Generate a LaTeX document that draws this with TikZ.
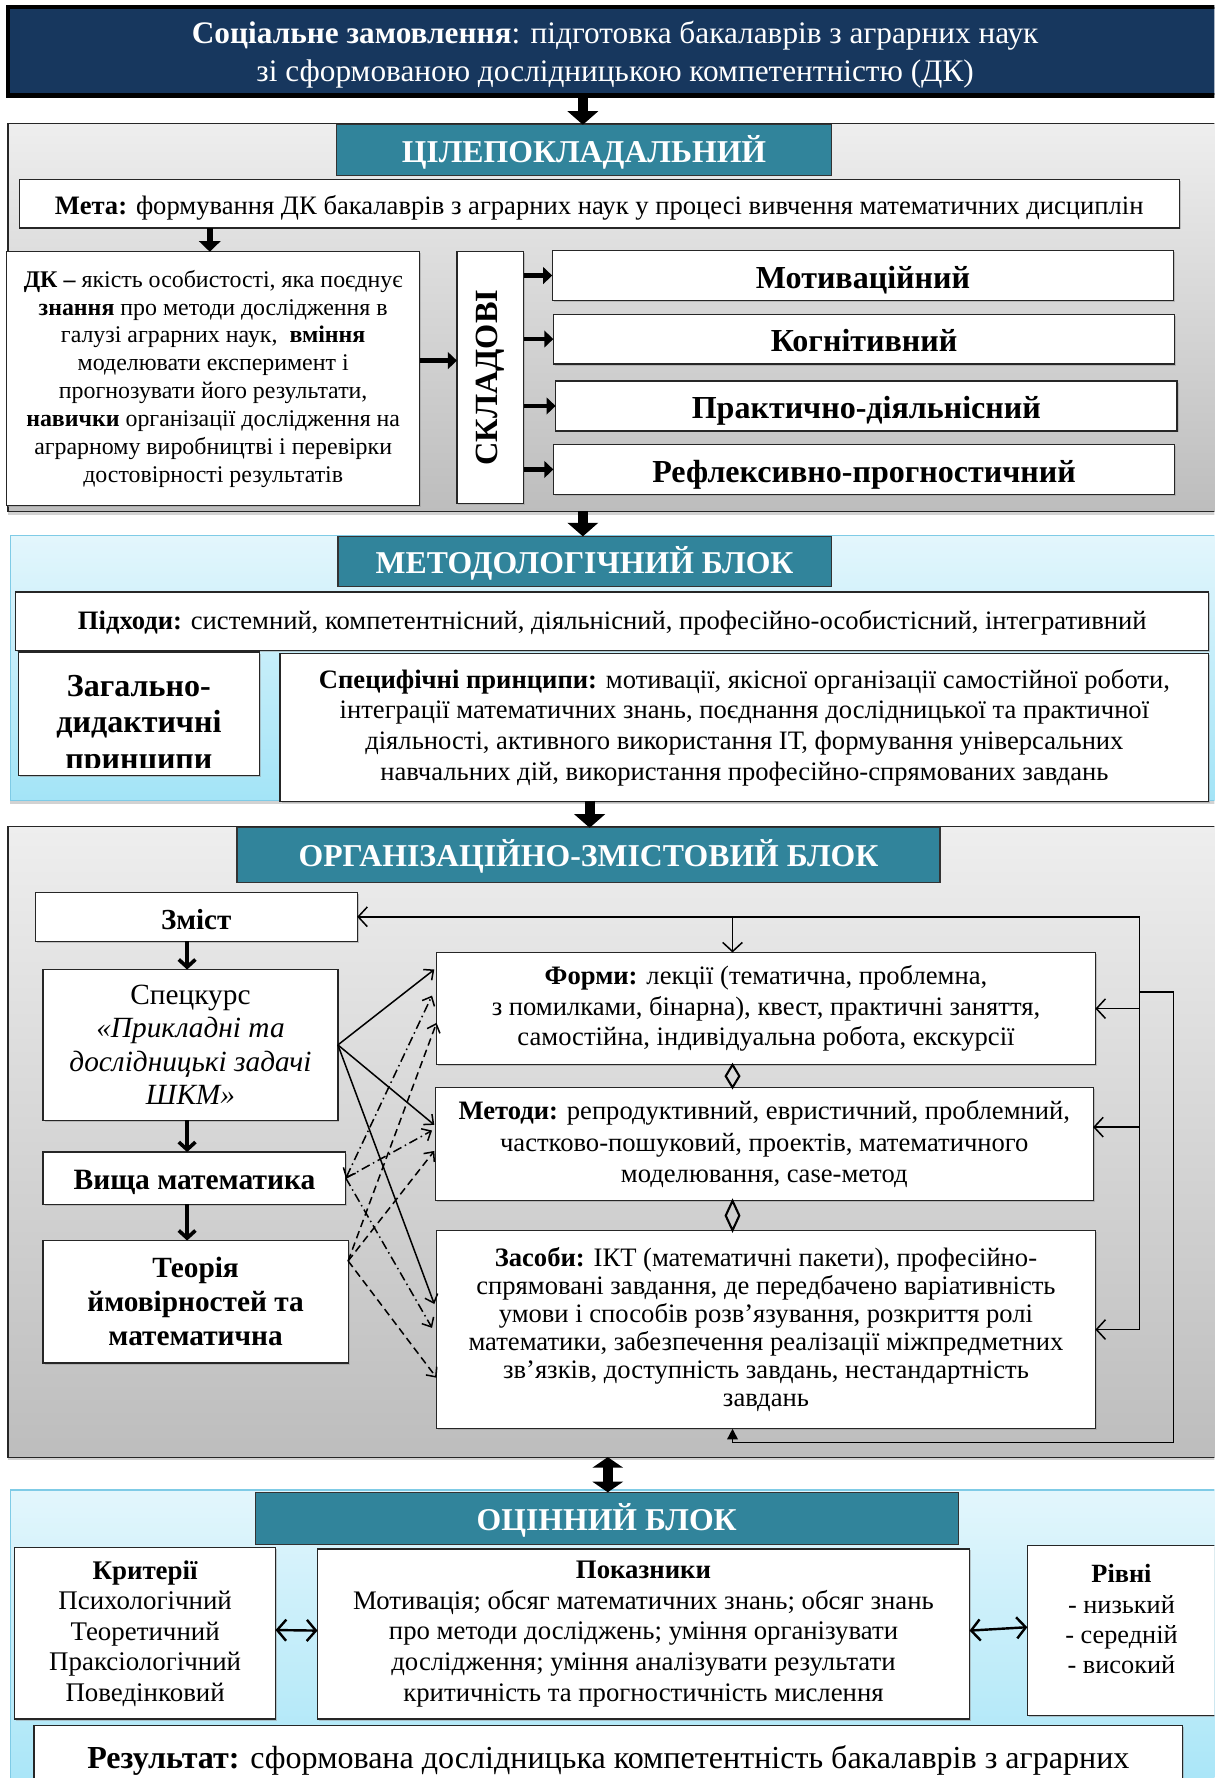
\documentclass[tikz,border=0pt]{standalone}
\usepackage{fontspec}
\setmainfont{Liberation Serif}
\usetikzlibrary{arrows.meta,shadows,calc}
\definecolor{navy}{HTML}{17375E}
\definecolor{tealhdr}{HTML}{31849B}
\definecolor{gtop}{HTML}{EEEEEE}
\definecolor{gbot}{HTML}{BDBDBD}
\definecolor{ctop}{HTML}{E3F6FC}
\definecolor{cbot}{HTML}{A3E4F7}
\definecolor{cedge}{HTML}{7FCBE6}
\newcommand\fsz[2]{\fontsize{#1}{#2}\selectfont}
\begin{document}
\begin{tikzpicture}[x=0.75pt,y=-0.75pt,
  rect/.style n args={4}{minimum width={(#3-#1)*0.75pt}, minimum height={(#4-#2)*0.75pt},
    at={({(#1+#3)/2},{(#2+#4)/2})}, inner sep=0pt, outer sep=0pt, rectangle},
  box/.style={draw=black!85, line width=0.8pt, fill=white, align=center,
    drop shadow={shadow xshift=1pt,shadow yshift=-1pt,fill=black!40}},
  onel/.style={text height=#1pt, text depth=2pt},
  blockgray/.style={draw=black!85, line width=0.8pt, top color=gtop, bottom color=gbot,
    drop shadow={shadow xshift=0pt,shadow yshift=-2.2pt,fill=black!35}},
  blockcyan/.style={draw=cedge, line width=0.8pt, top color=ctop, bottom color=cbot,
    drop shadow={shadow xshift=0pt,shadow yshift=-2.2pt,fill=black!35}},
  hdr/.style={draw=black!80, line width=0.8pt, fill=tealhdr, text=white, onel=17.6,
    font=\bfseries\fsz{21}{24}},
  bigarrow/.style={line width=6.5pt, -{Triangle[length=9pt,width=20pt]}},
  bigdbl/.style={line width=6.5pt, {Triangle[length=7pt,width=20pt]}-{Triangle[length=7pt,width=20pt]}},
  midarrow/.style={line width=4pt, -{Triangle[length=7pt,width=14pt]}},
  sarrow/.style={line width=2.8pt, -{Triangle[length=6pt,width=11pt]}},
  chev/.style={line width=2.4pt, -{Straight Barb[length=5pt,width=11pt]}},
  fb/.style={line width=1pt},
  fbtip/.style={-{Straight Barb[length=6pt,width=13pt]}},
  cross/.style={line width=1pt, -{Straight Barb[length=5pt,width=9pt]}},
  dd/.style={dash pattern=on 5pt off 3pt},
  ddot/.style={dash pattern=on 6pt off 2.5pt on 1pt off 2.5pt},
  evarrow/.style={line width=1.6pt, {Straight Barb[length=6pt,width=14pt]}-{Straight Barb[length=6pt,width=14pt]}},
]
\useasboundingbox (0,0) rectangle (1071,1568);
\clip (0,0) rectangle (1071,1568);

% helper x positions
\coordinate (x514) at (514,0);
\coordinate (x520) at (520,0);
\coordinate (x536) at (536,0);
\coordinate (x185) at (185,0);
\coordinate (x165) at (165,0);
\coordinate (fbx) at (646,0);
\coordinate (rin) at (1005,0);
\coordinate (rout) at (1035,0);

% ---------- top ----------
\node[rect={7}{6}{1078}{84}, fill=navy, draw=black, line width=3pt] (soc) {};
\node[text=white, align=center, font=\fsz{20.7}{24.8}] (soctxt) at ($(soc.center)+(0,3)$)
  {\textbf{Соціальне замовлення}: підготовка бакалаврів з аграрних наук\\зі сформованою дослідницькою компетентністю (ДК)};

% ---------- block 1 ----------
\node[blockgray, rect={7}{109}{1078}{451}] (blk1) {};
\node[hdr, rect={297}{110}{733}{155}] (t1) {ЦІЛЕПОКЛАДАЛЬНИЙ};
\node[box, onel=16, rect={17}{158}{1040}{201}, font=\fsz{17.6}{20}] (meta)
  {\textbf{Мета:} формування ДК бакалаврів з аграрних наук у процесі вивчення математичних дисциплін};
\node[box, rect={6}{222}{370}{446}, font=\fsz{15.8}{18.4}] (dk)
  {\textbf{ДК –} якість особистості, яка поєднує\\
   \textbf{знання} про методи дослідження в\\
   галузі аграрних наук,\ \ \textbf{вміння}\\
   моделювати експеримент і\\
   прогнозувати його результати,\\
   \textbf{навички} організації дослідження на\\
   аграрному виробництві і перевірки\\
   достовірності результатів};
\node[box, rect={403}{222}{462}{444}] (skl) {};
\node[rotate=90, font=\bfseries\fsz{21.4}{24}] (skltxt) at (skl.center) {СКЛАДОВІ};
\node[box, onel=19, rect={487}{221}{1035}{265}, font=\bfseries\fsz{21.2}{24}] (mot) {Мотиваційний};
\node[box, onel=19, rect={488}{277}{1036}{321}, font=\bfseries\fsz{21.2}{24}] (kog) {Когнітивний};
\node[box, onel=19, rect={490}{336}{1038}{380}, font=\bfseries\fsz{21.2}{24}] (prak) {Практично-діяльнісний};
\node[box, onel=19, rect={488}{392}{1036}{436}, font=\bfseries\fsz{21.2}{24}] (refl) {Рефлексивно-прогностичний};

% ---------- block 2 ----------
\node[blockcyan, rect={9}{472}{1078}{706}] (blk2) {};
\node[hdr, rect={298}{473}{733}{517}] (t2) {МЕТОДОЛОГІЧНИЙ БЛОК};
\node[box, onel=13, rect={14}{522}{1066}{574}, font=\fsz{17.6}{20}] (pidh)
  {\textbf{Підходи:} системний, компетентнісний, діяльнісний, професійно-особистісний, інтегративний};
\node[box, rect={16}{575}{229}{684}] (zag) {};
\begin{scope}
  \clip (16,575) rectangle (229,677);
  \node[font=\bfseries\fsz{21.2}{24.4}, align=center] (zagtxt) at (122.5,640) {Загально-\\дидактичні\\принципи};
\end{scope}
\node[box, rect={247}{576}{1066}{707}, font=\fsz{17.6}{20.3}] (spec2)
  {\textbf{Специфічні принципи:} мотивації, якісної організації самостійної роботи,\\
   інтеграції математичних знань, поєднання дослідницької та практичної\\
   діяльності, активного використання ІТ, формування універсальних\\
   навчальних дій, використання професійно-спрямованих завдань};

% ---------- block 3 ----------
\node[blockgray, rect={7}{729}{1078}{1285}] (blk3) {};
\node[hdr, rect={209}{730}{829}{778}] (t3) {ОРГАНІЗАЦІЙНО-ЗМІСТОВИЙ БЛОК};
\node[box, onel=18.4, rect={31}{787}{315}{830}, font=\bfseries\fsz{19.2}{22}] (zmist) {Зміст};
\node[box, rect={38}{855}{298}{988}, font=\fsz{19.4}{22.2}] (spec)
  {Спецкурс\\ \textit{«Прикладні та}\\ \textit{дослідницькі задачі}\\ \textit{ШКМ»}};
\node[box, onel=16.4, rect={38}{1016}{305}{1062}, font=\bfseries\fsz{19.5}{22}] (vysh) {Вища математика};
\node[box, rect={38}{1094}{307}{1202}, font=\bfseries\fsz{19.4}{22.5}] (teor)
  {Теорія\\ймовірностей та\\математична};
\node[box, rect={385}{840}{966}{939}, font=\fsz{17.6}{20.3}] (formy)
  {\textbf{Форми:} лекції (тематична, проблемна,\\
   з помилками, бінарна), квест, практичні заняття,\\
   самостійна, індивідуальна робота, екскурсії};
\node[box, rect={384}{959}{964}{1059}, font=\fsz{17.6}{20.6}] (metody)
  {\textbf{Методи:} репродуктивний, евристичний, проблемний,\\
   частково-пошуковий, проектів, математичного\\
   моделювання, case-метод};
\node[box, rect={385}{1085}{966}{1260}, font=\fsz{17.6}{18.5}] (zasoby)
  {\textbf{Засоби:} ІКТ (математичні пакети), професійно-\\
   спрямовані завдання, де передбачено варіативність\\
   умови і способів розв’язування, розкриття ролі\\
   математики, забезпечення реалізації міжпредметних\\
   зв’язків, доступність завдань, нестандартність\\
   завдань};

% ---------- block 4 ----------
\node[blockcyan, rect={9}{1314}{1078}{1600}] (blk4) {};
\node[hdr, rect={225}{1316}{845}{1362}] (t4) {ОЦІННИЙ БЛОК};
\node[box, rect={13}{1365}{243}{1516}, font=\fsz{17.8}{20.2}] (kryt)
  {\textbf{Критерії}\\Психологічний\\Теоретичний\\Праксіологічний\\Поведінковий};
\node[box, rect={280}{1366}{855}{1516}, font=\fsz{17.7}{20.2}] (pokaz)
  {\textbf{Показники}\\
   Мотивація; обсяг математичних знань; обсяг знань\\
   про методи досліджень; уміння організувати\\
   дослідження; уміння аналізувати результати\\
   критичність та прогностичність мислення};
\node[box, rect={906}{1363}{1078}{1513}] (rivni) {};
\node[font=\fsz{17.4}{20}, align=center] (rivnitxt) at (989,1428)
  {\textbf{Рівні}\\- низький\\- середній\\- високий};
\node[box, onel=16, rect={30}{1522}{1043}{1578}, font=\fsz{21.2}{23}] (res)
  {\textbf{Результат:} сформована дослідницька компетентність бакалаврів з аграрних};

% ---------- connectors ----------
\draw[bigarrow] (soc.south -| x514) -- (t1.north -| x514);
\draw[bigarrow] (blk1.south -| x514) -- (t2.north -| x514);
\draw[bigarrow] (blk2.south -| x520) -- (t3.north -| x520);
\draw[bigdbl] (blk3.south -| x536) -- (t4.north -| x536);

\draw[midarrow] (meta.south -| x185) -- (dk.north -| x185);
\draw[sarrow] ($(dk.east)+(0,-16)$) -- ($(skl.west)+(0,-15)$);
\draw[sarrow] (skl.east |- mot.west) -- (mot.west);
\draw[sarrow] (skl.east |- kog.west) -- (kog.west);
\draw[sarrow] (skl.east |- prak.west) -- (prak.west);
\draw[sarrow] (skl.east |- refl.west) -- (refl.west);

\draw[chev] (zmist.south -| x165) -- (spec.north -| x165);
\draw[chev] (spec.south -| x165) -- (vysh.north -| x165);
\draw[chev] (vysh.south -| x165) -- (teor.north -| x165);

% diamonds between right boxes
\draw[line width=1.4pt] (formy.south -| fbx) -- ++(6,10) -- (metody.north -| fbx) -- ++(-6,-10) -- cycle;
\draw[line width=1.4pt] (metody.south -| fbx) -- ++(6,13) -- (zasoby.north -| fbx) -- ++(-6,-13) -- cycle;

% feedback loop
\draw[fb,fbtip] (rin |- zasoby.east) -- (rin |- zmist.east) -- (zmist.east);
\draw[fb,fbtip] (fbx |- zmist.east) -- (formy.north -| fbx);
\draw[fb,fbtip] (rin |- formy.east) -- (formy.east);
\draw[fb,fbtip] ($(rin |- metody.east)+(0,-15)$) -- ($(metody.east)+(0,-15)$);
\draw[fb,fbtip] (rin |- zasoby.east) -- (zasoby.east);
\coordinate (junc) at ($(rin |- formy.north)+(0,35)$);
\draw[fb,-{Triangle[length=7pt,width=7pt]}] (junc) -- (rout |- junc) -- ($(rout |- zasoby.south)+(0,12)$)
  -- ($(fbx |- zasoby.south)+(0,12)$) -- (zasoby.south -| fbx);

% cross connectors
\draw[cross] (spec.east) -- ($(formy.north west)+(-2,15)$);
\draw[cross] (spec.east) -- ($(metody.north west)+(-1,33)$);
\draw[cross] (spec.east) -- ($(zasoby.north west)+(-2,65)$);
\draw[cross,ddot,{Straight Barb[length=5pt,width=9pt]}-{Straight Barb[length=5pt,width=9pt]}] (vysh.east) -- ($(formy.north west)+(-4,38)$);
\draw[cross,ddot] (vysh.east) -- ($(metody.north west)+(-3,38)$);
\draw[cross,ddot] (vysh.east) -- ($(zasoby.north west)+(-4,86)$);
\coordinate (tstart) at ($(teor.north east)+(0,18)$);
\draw[cross,dd] (tstart) -- ($(formy.north west)+(0,62)$);
\draw[cross,dd] (tstart) -- ($(metody.north west)+(-1,56)$);
\draw[cross,dd] (tstart) -- ($(zasoby.north west)+(0,130)$);

% evaluation arrows
\draw[evarrow] ($(kryt.east)+(0,-3)$) -- ($(pokaz.west)+(0,-3)$);
\draw[evarrow] ($(pokaz.east)+(0,-3)$) -- ($(rivni.west)+(0,-3)$);
\end{tikzpicture}
\end{document}
